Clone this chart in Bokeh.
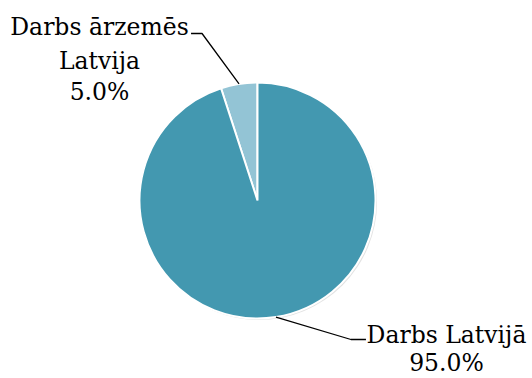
import math
from bokeh.plotting import figure
from bokeh.models import Range1d
from bokeh.core.properties import value
from bokeh.embed import file_html
from bokeh.resources import INLINE

# data
categories = ["Darbs Latvijā", "Darbs ārzemēs\nLatvija"]
shares = [95.0, 5.0]
colors = ["#4398B0", "#93C4D5"]

W, H = 532, 378
cx, cy, r = 257, H - 200, 118

p = figure(width=W, height=H, output_backend="svg", toolbar_location=None,
           x_range=Range1d(0, W), y_range=Range1d(0, H), min_border=0)
p.axis.visible = False
p.grid.visible = False
p.outline_line_color = None
p.background_fill_color = "white"
p.border_fill_color = "white"

total = sum(shares)
start = math.pi / 2
angles = []
order = [1, 0]
for i in order:
    a0 = start
    a1 = start + 2 * math.pi * shares[i] / total
    angles.append((i, a0, a1))
    start = a1

p.circle(x=cx + 1.5, y=cy - 1.5, radius=r, fill_color="#bfbfbf", fill_alpha=0.45,
         line_color=None)

for i, a0, a1 in angles:
    p.wedge(x=cx, y=cy, radius=r, start_angle=a0, end_angle=a1,
            fill_color=colors[i], line_color="white", line_width=2)

font = value("DejaVu Serif")
fs = "23.5px"
off = 9  # compensation for rendered baseline shift

for i, a0, a1 in angles:
    mid = (a0 + a1) / 2
    ex, ey = cx + r * math.cos(mid), cy + r * math.sin(mid)
    pct = f"{shares[i]:.1f}%"
    if i == 1:
        xs = [ex, ex - 37, ex - 48]
        ys = [ey, H - 33, H - 33]
        p.line(xs, ys, line_color="black", line_width=1.3)
        lines = categories[i].split("\n") + [pct]
        bases = [35, 69, 100]
        for t, b in zip(lines, bases):
            p.text(x=[99], y=[H - b + off], text=[t], text_font=font, text_font_size=fs,
                   text_align="center", text_baseline="alphabetic", text_color="black")
    else:
        xs = [ex, ex + 75, ex + 90]
        ys = [ey, H - 339, H - 339]
        p.line(xs, ys, line_color="black", line_width=1.3)
        lines = [categories[i], pct]
        bases = [343, 371]
        for t, b in zip(lines, bases):
            p.text(x=[446], y=[H - b + off], text=[t], text_font=font,
                   text_font_size=fs, text_align="center",
                   text_baseline="alphabetic", text_color="black")

open("out.html", "w").write(file_html(p, INLINE))
